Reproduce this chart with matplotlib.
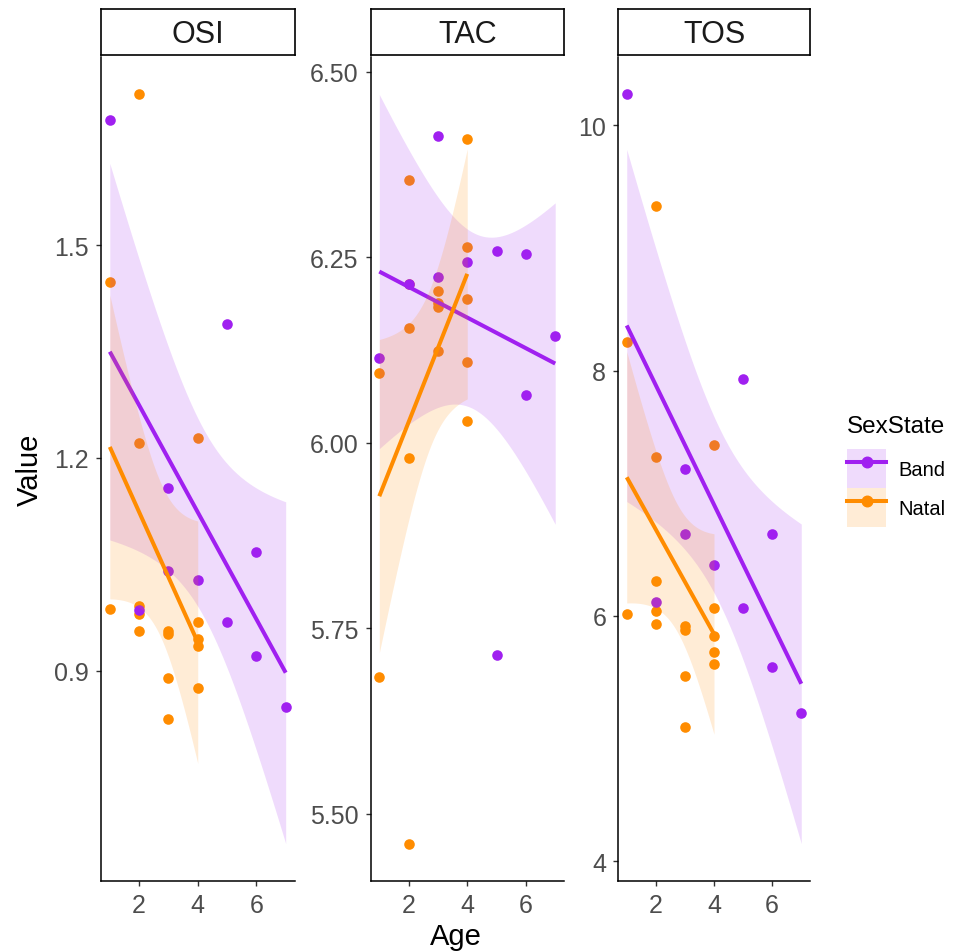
"""Age vs value by SexState, one panel per measure, with lm fits and 95% bands."""

import numpy as np
import matplotlib

matplotlib.use("Agg")
import matplotlib.pyplot as plt
from matplotlib.lines import Line2D
from matplotlib.patches import Patch

plt.rcParams["font.family"] = ["Liberation Sans", "DejaVu Sans"]

BAND = "#A020F0"
NATAL = "#FF8C00"
FILL_ALPHA = 0.16

# data
band_age = [1, 2, 3, 3, 4, 5, 5, 6, 6, 7]
natal_age = [1, 1, 2, 2, 2, 2, 2, 3, 3, 3, 3, 4, 4, 4, 4, 4]

osi_band = [1.677, 0.985, 1.158, 1.041, 1.028, 1.389, 0.969, 1.068, 0.921, 0.848]
osi_natal = [1.449, 0.987, 1.713, 1.221, 0.991, 0.980, 0.956, 0.956, 0.952,
             0.889, 0.831, 1.228, 0.969, 0.944, 0.935, 0.876]

tac_band = [6.114, 6.214, 6.414, 6.224, 6.244, 6.259, 5.714, 6.254, 6.065, 6.144]
tac_natal = [6.094, 5.684, 6.354, 6.214, 6.154, 5.980, 5.460, 6.204, 6.188,
             6.183, 6.124, 6.409, 6.264, 6.194, 6.109, 6.029]

tos_band = [10.252, 6.115, 7.200, 6.668, 6.416, 7.930, 6.063, 6.668, 5.586, 5.205]
tos_natal = [8.234, 6.014, 9.341, 7.297, 6.288, 6.039, 5.936, 5.919, 5.884,
             5.509, 5.091, 7.398, 6.063, 5.838, 5.708, 5.607]

panel_names = ["OSI", "TAC", "TOS"]
panel_band = [osi_band, tac_band, tos_band]
panel_natal = [osi_natal, tac_natal, tos_natal]
panel_yticks = [[0.9, 1.2, 1.5], [5.5, 5.75, 6.0, 6.25, 6.5], [4, 6, 8, 10]]
panel_yticklabels = [["0.9", "1.2", "1.5"],
                     ["5.50", "5.75", "6.00", "6.25", "6.50"],
                     ["4", "6", "8", "10"]]
x_ticks = [2, 4, 6]

# the bands in the original match a normal quantile, not a t one
Z95 = 1.959964


def lm_band(x, y):
    """Straight-line fit with a 95% confidence band."""
    x = np.asarray(x, float)
    y = np.asarray(y, float)
    n = len(x)
    slope, icpt = np.polyfit(x, y, 1)
    resid = y - (icpt + slope * x)
    s = np.sqrt(np.sum(resid ** 2) / (n - 2))
    xs = np.linspace(x.min(), x.max(), 100)
    fit = icpt + slope * xs
    se = s * np.sqrt(1 / n + (xs - x.mean()) ** 2 / np.sum((x - x.mean()) ** 2))
    return xs, fit, fit - Z95 * se, fit + Z95 * se


W, H = 956, 953


def rect(left, right, top, bottom):
    return [left / W, 1 - bottom / H, (right - left) / W, (bottom - top) / H]


fig = plt.figure(figsize=(W / 100, H / 100), dpi=100)

panel_x = [(101, 294.5), (370.5, 564), (618, 810)]
panel_top, panel_bottom = 58, 882
strip_top, strip_bottom = 10, 55.5

for i, name in enumerate(panel_names):
    left, right = panel_x[i]
    ax = fig.add_axes(rect(left, right, panel_top, panel_bottom))

    # points first, ribbons and lines go over them
    ax.scatter(natal_age, panel_natal[i], s=58, color=NATAL, lw=0, zorder=2)
    ax.scatter(band_age, panel_band[i], s=58, color=BAND, lw=0, zorder=2)

    lows, highs = [], []
    z = 3
    for ages, vals, col in [(band_age, panel_band[i], BAND),
                            (natal_age, panel_natal[i], NATAL)]:
        xs, fit, lo, hi = lm_band(ages, vals)
        ax.fill_between(xs, lo, hi, color=col, alpha=FILL_ALPHA, lw=0, zorder=z)
        ax.plot(xs, fit, color=col, lw=2.9, solid_capstyle="butt", zorder=z + 1)
        lows.append(lo.min())
        highs.append(hi.max())
        z += 2

    ymin = min(min(panel_band[i]), min(panel_natal[i]), *lows)
    ymax = max(max(panel_band[i]), max(panel_natal[i]), *highs)
    pad = 0.05 * (ymax - ymin)
    ax.set_ylim(ymin - pad, ymax + pad)
    ax.set_xlim(0.7, 7.3)

    ax.set_xticks(x_ticks)
    ax.set_yticks(panel_yticks[i])
    ax.set_yticklabels(panel_yticklabels[i])
    ax.tick_params(direction="out", length=3.5, width=1.0, color="#333333",
                   labelcolor="#4D4D4D", labelsize=18, pad=5.0)
    for side in ["top", "right"]:
        ax.spines[side].set_visible(False)
    for side in ["left", "bottom"]:
        ax.spines[side].set_linewidth(1.1)
        ax.spines[side].set_color("black")

    # facet strip
    sx = fig.add_axes(rect(left, right, strip_top, strip_bottom))
    sx.set_xticks([])
    sx.set_yticks([])
    for sp in sx.spines.values():
        sp.set_linewidth(1.2)
        sp.set_color("black")
    sx.text(0.5, 0.45, name, ha="center", va="center", fontsize=22,
            color="#1A1A1A", transform=sx.transAxes)

fig.text(30 / W, 1 - 470 / H, "Value", rotation=90, ha="center", va="center",
         fontsize=21)
fig.text(455.5 / W, 1 - 937 / H, "Age", ha="center", va="center", fontsize=21)

# legend: title as its own text so the gap to the keys can be set
fig.text(847 / W, 1 - 427 / H, "SexState", ha="left", va="center", fontsize=17.5)
handles = [
    (Patch(facecolor=BAND, alpha=FILL_ALPHA, edgecolor="none"),
     Line2D([], [], color=BAND, lw=2.9, marker="o", ms=7.6)),
    (Patch(facecolor=NATAL, alpha=FILL_ALPHA, edgecolor="none"),
     Line2D([], [], color=NATAL, lw=2.9, marker="o", ms=7.6)),
]
fig.legend(handles, ["Band", "Natal"], loc="upper left",
           bbox_to_anchor=(847 / W, 1 - 450 / H), frameon=False,
           fontsize=14.5, handlelength=1.95, handleheight=2.6, labelspacing=0,
           handletextpad=0.6, borderpad=0, borderaxespad=0)

fig.savefig("out.png", dpi=100)
